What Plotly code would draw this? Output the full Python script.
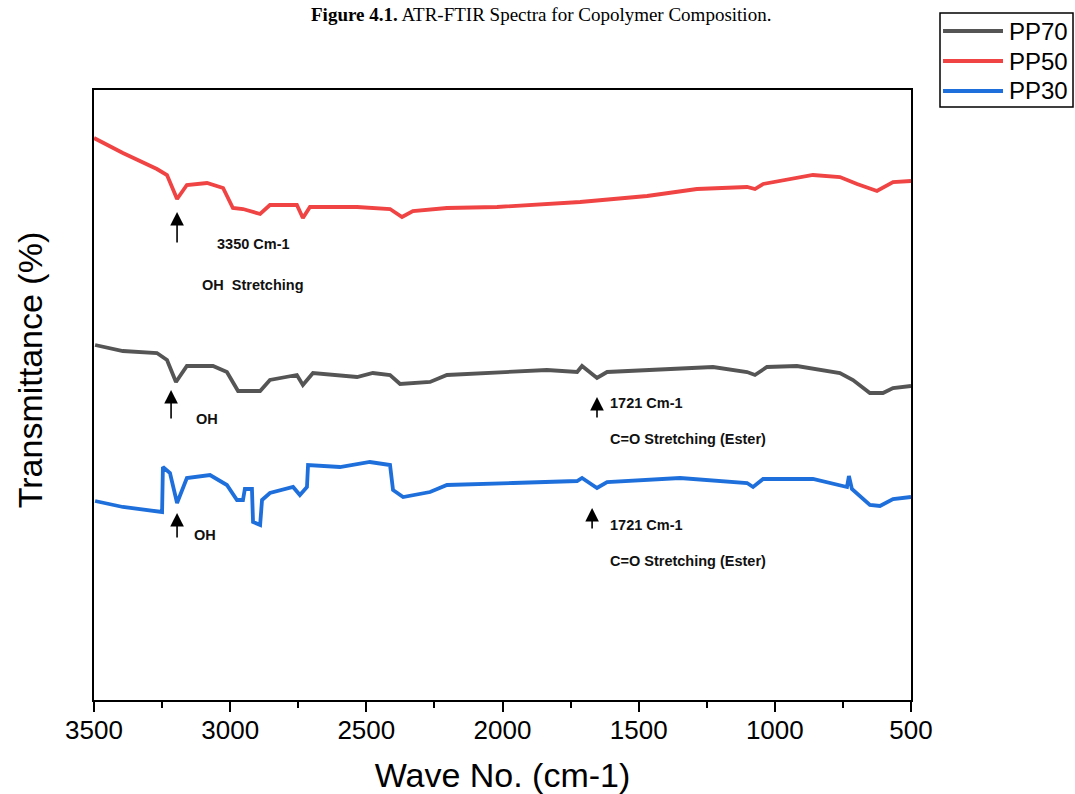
import plotly.graph_objects as go

# ---- data (wavenumber cm-1, transmittance in arbitrary offset units) ----
pp50_x = [3500, 3394, 3269, 3232, 3195, 3159, 3085, 3026, 2990, 2953, 2890, 2854, 2755, 2733,
          2707, 2534, 2413, 2369, 2329, 2204, 2020, 1715, 1469, 1286, 1102, 1073, 1043, 860,
          761, 698, 625, 566, 500]
pp50_y = [562, 547, 531, 525, 501, 515, 517, 512, 492, 491, 486, 495, 495, 482,
          493, 493, 491, 483, 489, 492, 493, 498, 504, 511, 513, 511, 516, 525,
          523, 516, 509, 518, 519]

pp70_x = [3496, 3394, 3269, 3232, 3199, 3159, 3063, 3012, 2971, 2890, 2854, 2755, 2733, 2696,
          2534, 2476, 2413, 2376, 2266, 2204, 1837, 1726, 1708, 1653, 1616, 1348, 1227, 1102,
          1073, 1029, 919, 761, 713, 651, 603, 566, 500]
pp70_y = [355, 349, 347, 340, 318, 334, 334, 328, 309, 309, 320, 325, 315, 327,
          323, 327, 325, 316, 318, 325, 330, 328, 334, 322, 328, 332, 333, 328,
          325, 333, 334, 327, 320, 307, 307, 312, 314]

pp30_x = [3496, 3394, 3250, 3247, 3221, 3195, 3159, 3074, 3012, 2975, 2953, 2946, 2920, 2916,
          2890, 2883, 2854, 2769, 2744, 2718, 2714, 2597, 2487, 2413, 2402, 2365, 2266, 2204,
          1961, 1726, 1708, 1653, 1616, 1348, 1102, 1080, 1043, 860, 735, 728, 717, 651,
          614, 566, 500]
pp30_y = [199, 193, 188, 233, 227, 197, 222, 225, 215, 200, 200, 211, 211, 178,
          175, 200, 207, 213, 205, 213, 235, 233, 238, 235, 210, 203, 208, 215,
          217, 219, 222, 212, 218, 222, 217, 213, 221, 221, 213, 224, 211, 195,
          194, 201, 203]

series_names = ["PP70", "PP50", "PP30"]
series_colors = ["#555555", "#f04343", "#1e6fdc"]

x_ticks = [3500, 3000, 2500, 2000, 1500, 1000, 500]

fig = go.Figure()
for name, xs, ys, col in zip(series_names,
                             [pp70_x, pp50_x, pp30_x],
                             [pp70_y, pp50_y, pp30_y],
                             series_colors):
    fig.add_trace(go.Scatter(x=xs, y=ys, mode="lines", name=name,
                             line=dict(color=col, width=3.8), showlegend=False))

# ---- custom legend (box, line samples, labels) ----
fig.add_shape(type="rect", xref="paper", yref="paper", x0=1.0355, x1=1.1983,
              y0=0.9721, y1=1.1262, line=dict(color="black", width=1.5),
              fillcolor="white", layer="above")
legend_rows = [1.0967, 1.0475, 0.9984]
for name, col, ry in zip(series_names, series_colors, legend_rows):
    fig.add_shape(type="line", xref="paper", yref="paper", x0=1.0392, x1=1.1126,
                  y0=ry, y1=ry, line=dict(color=col, width=4), layer="above")
    fig.add_annotation(xref="paper", yref="paper", x=1.1175, y=ry, text=name,
                       showarrow=False, xanchor="left", yanchor="middle",
                       font=dict(family="Liberation Sans", size=24, color="black"))

# ---- peak annotations ----
lab_font = dict(family="Liberation Sans", size=14.5, color="#111111")
arrows = [  # (x head, y head, tail offset px)
    (3195, 488, 32), (3217, 310, 30), (1653, 303, 22), (3195, 187, 26), (1671, 192, 22)
]
labels = [
    (3055, 456, "<b>3350 Cm-1</b>"),
    (3111, 415, "<b>OH  Stretching</b>"),
    (3133, 281, "<b>OH</b>"),
    (1612, 297, "<b>1721 Cm-1</b>"),
    (1612, 261, "<b>C=O Stretching (Ester)</b>"),
    (3140, 165, "<b>OH</b>"),
    (1612, 175, "<b>1721 Cm-1</b>"),
    (1612, 139, "<b>C=O Stretching (Ester)</b>"),
]
for hx, hy, off in arrows:
    fig.add_annotation(x=hx, y=hy, ax=0, ay=off, axref="pixel", ayref="pixel",
                       text="", showarrow=True, arrowhead=2, arrowsize=1.7,
                       arrowwidth=1.6, arrowcolor="black")
for lx, ly, t in labels:
    fig.add_annotation(x=lx, y=ly, text=t, showarrow=False, xanchor="left",
                       yanchor="middle", font=lab_font)

# figure caption at the very top
fig.add_annotation(xref="paper", yref="paper", x=0.547, y=1.124,
                   text="<b>Figure 4.1.</b> ATR-FTIR Spectra for Copolymer Composition.",
                   showarrow=False, xanchor="center", yanchor="middle",
                   font=dict(family="Liberation Serif", size=19, color="black"))

# y-axis title as rotated annotation (slightly above plot centre, as in the reference)
fig.add_annotation(xref="paper", yref="paper", x=-0.078, y=0.541,
                   text="Transmittance (%)", textangle=-90, showarrow=False,
                   xanchor="center", yanchor="middle",
                   font=dict(family="Liberation Sans", size=34, color="black"))

fig.update_layout(
    width=1075, height=794,
    margin=dict(l=94, r=164, t=90, b=94, autoexpand=False),
    paper_bgcolor="white", plot_bgcolor="white",
    font=dict(family="Liberation Sans", color="black"),
    showlegend=False,
)
fig.update_xaxes(range=[3500, 500], tickvals=x_ticks, ticks="outside", ticklen=10,
                 tickwidth=2, tickcolor="black", showline=True, linecolor="black",
                 linewidth=2, mirror=True, showgrid=False, zeroline=False, automargin=False,
                 tickfont=dict(size=26, family="Liberation Sans"), ticklabelstandoff=-4,
                 minor=dict(dtick=250, tick0=500, ticks="outside", ticklen=6, tickwidth=2,
                            tickcolor="black", showgrid=False),
                 title=dict(text="Wave No. (cm-1)", font=dict(size=34), standoff=20))
fig.update_yaxes(range=[0, 610], showticklabels=False, ticks="", showline=True,
                 linecolor="black", linewidth=2, mirror=True, showgrid=False,
                 zeroline=False, automargin=False)

# remove the browser's default 8px body margin so the figure fills the window exactly
fig.write_html("out.html",
               config={"displayModeBar": False},
               post_script="document.body.style.margin='0';"
                           "document.body.style.overflow='hidden';")
